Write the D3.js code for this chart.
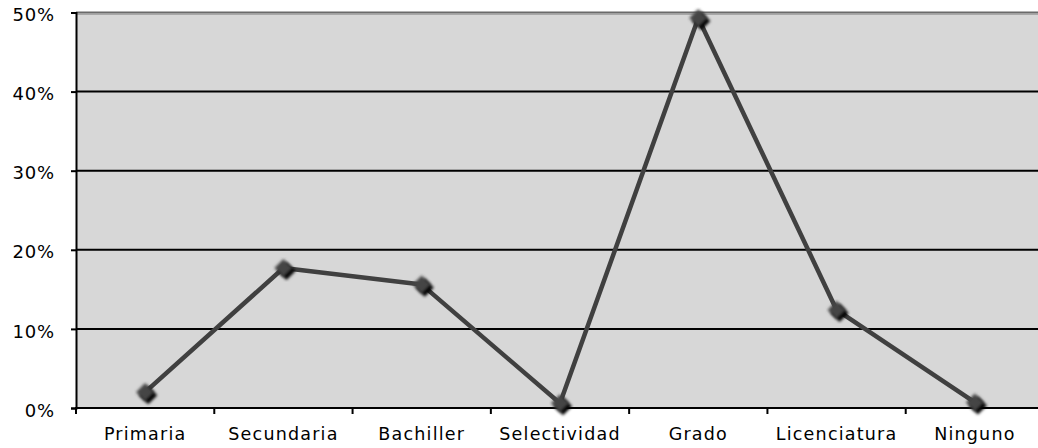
<!DOCTYPE html>
<html><head><meta charset="utf-8">
<script src="https://cdn.jsdelivr.net/npm/d3@7"></script>
<style>body{margin:0;background:#fff}svg{display:block}</style>
</head><body>
<svg id="c" width="1038" height="448"></svg>
<script>
const categories = ["Primaria","Secundaria","Bachiller","Selectividad","Grado","Licenciatura","Ninguno"];
const values = [2.0, 17.7, 15.6, 0.6, 49.3, 12.4, 0.7];
const yTicks = [0,10,20,30,40,50];

(function(){
const svg = d3.select("#c");
const pL = 76, pR = 1044, pT = 12.5, pB = 408;
const x = d3.scaleBand().domain(categories).range([pL, pR]);
const y = d3.scaleLinear().domain([0,50]).range([pB, pT]);
const font = "DejaVu Sans, Verdana, sans-serif";

svg.append("rect").attr("x", pL).attr("y", pT).attr("width", pR-pL).attr("height", pB-pT).attr("fill", "#d7d7d7");

svg.append("g").selectAll("line").data(yTicks.filter(t=>t>0)).join("line")
  .attr("x1", pL).attr("x2", pR)
  .attr("y1", d=>y(d)).attr("y2", d=>y(d))
  .attr("stroke", d=> d===50 ? "#6a6a6a" : "#000").attr("stroke-width", 2);
svg.append("line").attr("x1", pL).attr("x2", pR).attr("y1", pT+2).attr("y2", pT+2).attr("stroke","#a8a8a8").attr("stroke-width",1);

const yAxis = d3.axisLeft(y).tickValues(yTicks).tickFormat(d=>d+"%").tickSize(5).tickPadding(16);
const ga = svg.append("g").attr("transform", `translate(${pL},0)`).call(yAxis);
ga.select(".domain").attr("stroke","#000").attr("stroke-width",2);
ga.selectAll(".tick line").attr("stroke","#000").attr("stroke-width",2);
ga.selectAll("text").attr("font-family", font).attr("font-size", 18).attr("letter-spacing", 0.8).attr("fill","#000").attr("dy","0.45em");

const xAxis = d3.axisBottom(x).tickSize(0).tickPadding(0);
const gx = svg.append("g").attr("transform", `translate(0,${pB})`).call(xAxis);
gx.select(".domain").remove();
gx.selectAll("text").attr("font-family", font).attr("font-size", 17.5).attr("letter-spacing", 1.2).attr("fill","#000").attr("dy", null).attr("y", 32);
svg.append("line").attr("x1", pL-1).attr("x2", pR).attr("y1", pB).attr("y2", pB).attr("stroke","#000").attr("stroke-width",2);
svg.append("g").selectAll("line").data(categories).join("line")
  .attr("x1", d=>x(d)).attr("x2", d=>x(d)).attr("y1", pB).attr("y2", pB+6)
  .attr("stroke","#000").attr("stroke-width",2);

const defs = svg.append("defs");
defs.append("filter").attr("id","blur").append("feGaussianBlur").attr("stdDeviation",1.4);

const cx = d => x(d) + x.bandwidth()/2;
const line = d3.line().x((d,i)=>cx(categories[i])).y(d=>y(d));
svg.append("path").datum(values).attr("d", line).attr("fill","none").attr("stroke","#404040").attr("stroke-width",4.5).attr("stroke-linejoin","round");

const diamond = d3.symbol().type(d3.symbolDiamond2).size(210);
svg.append("g").selectAll("path").data(values).join("path")
  .attr("d", diamond)
  .attr("transform", (d,i)=>`translate(${cx(categories[i])+3},${y(d)+3})`)
  .attr("fill","#000").attr("filter","url(#blur)");
svg.append("g").selectAll("path").data(values).join("path")
  .attr("d", diamond)
  .attr("transform", (d,i)=>`translate(${cx(categories[i])},${y(d)})`)
  .attr("fill","#454545").attr("filter","url(#blur)");
})();
</script>
</body></html>
